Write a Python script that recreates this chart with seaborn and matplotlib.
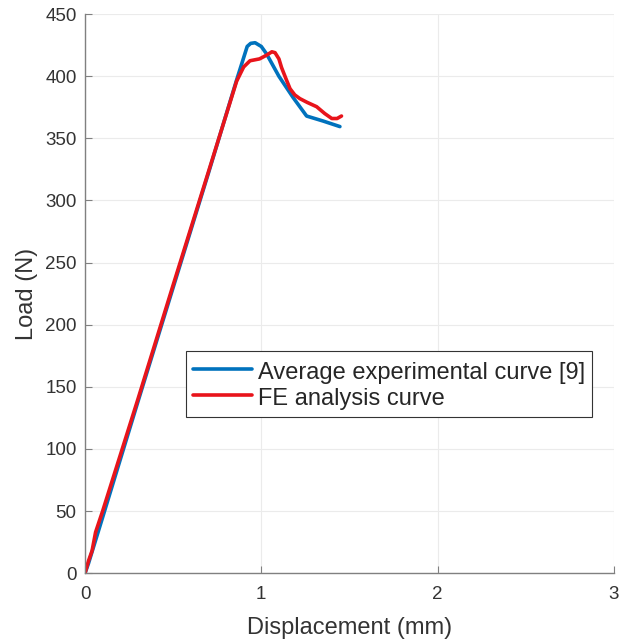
import matplotlib
matplotlib.use("Agg")
import matplotlib.pyplot as plt
import seaborn as sns
import pandas as pd

# Average experimental curve [9]
exp_disp = [0.0, 0.02, 0.10, 0.30, 0.50, 0.70, 0.86, 0.92, 0.94, 0.965, 1.00, 1.03, 1.10, 1.18, 1.257, 1.35, 1.446]
exp_load = [0.0, 8.0, 45.0, 138.0, 230.0, 322.0, 397.0, 424.0, 426.5, 427.0, 424.0, 418.0, 400.0, 383.0, 368.0, 364.0, 359.5]

# FE analysis curve
fe_disp = [0.0, 0.02, 0.04, 0.06, 0.10, 0.30, 0.50, 0.70, 0.86, 0.90, 0.936, 0.99, 1.03, 1.06, 1.078, 1.10, 1.115,
           1.14, 1.163, 1.19, 1.219, 1.26, 1.314, 1.36, 1.40, 1.43, 1.455]
fe_load = [0.0, 10.0, 18.0, 33.0, 50.0, 140.0, 232.0, 323.0, 396.0, 407.5, 412.5, 414.0, 417.0, 419.7, 419.0, 414.0, 407.0,
           398.0, 390.0, 385.0, 382.0, 379.0, 375.5, 370.0, 366.0, 366.0, 368.0]

df = pd.concat([
    pd.DataFrame({"disp": exp_disp, "load": exp_load, "curve": "Average experimental curve [9]"}),
    pd.DataFrame({"disp": fe_disp, "load": fe_load, "curve": "FE analysis curve"}),
])

sns.set_style("whitegrid")
plt.rcParams["font.family"] = ["Liberation Sans", "DejaVu Sans"]

fig = plt.figure(figsize=(6.27, 6.44), dpi=100)
ax = fig.add_axes([0.1356, 0.110, 0.8434, 0.868])

sns.lineplot(data=df, x="disp", y="load", hue="curve", sort=False, estimator=None,
             palette=["#0072BD", "#E8141B"], linewidth=2.6, ax=ax)

ax.set_xlim(0, 3)
ax.set_ylim(0, 450)
ax.set_xticks([0, 1, 2, 3])
ax.set_yticks(range(0, 451, 50))
ax.set_xlabel("Displacement (mm)", fontsize=17, color="#333333", labelpad=10)
ax.set_ylabel("Load (N)", fontsize=17, color="#333333", labelpad=5)
ax.tick_params(labelsize=13.5, labelcolor="#333333", color="#808080", direction="in",
               length=5, width=0.8, left=True, bottom=True)
ax.tick_params(axis="x", pad=9)
ax.tick_params(axis="y", pad=6)
ax.grid(True, color="#ebebeb", linewidth=0.8)
for side in ["top", "right"]:
    ax.spines[side].set_visible(False)
for side in ["left", "bottom"]:
    ax.spines[side].set_color("#808080")
    ax.spines[side].set_linewidth(1.0)

leg = ax.legend(loc="lower left", bbox_to_anchor=(0.191, 0.279), fontsize=17, frameon=True,
                fancybox=False, edgecolor="#333333", framealpha=1, handlelength=2.5,
                handleheight=1.25, borderpad=0.3, labelspacing=0.03, handletextpad=0.25,
                borderaxespad=0)
leg.get_frame().set_linewidth(0.8)

fig.savefig("out.png", dpi=100)
